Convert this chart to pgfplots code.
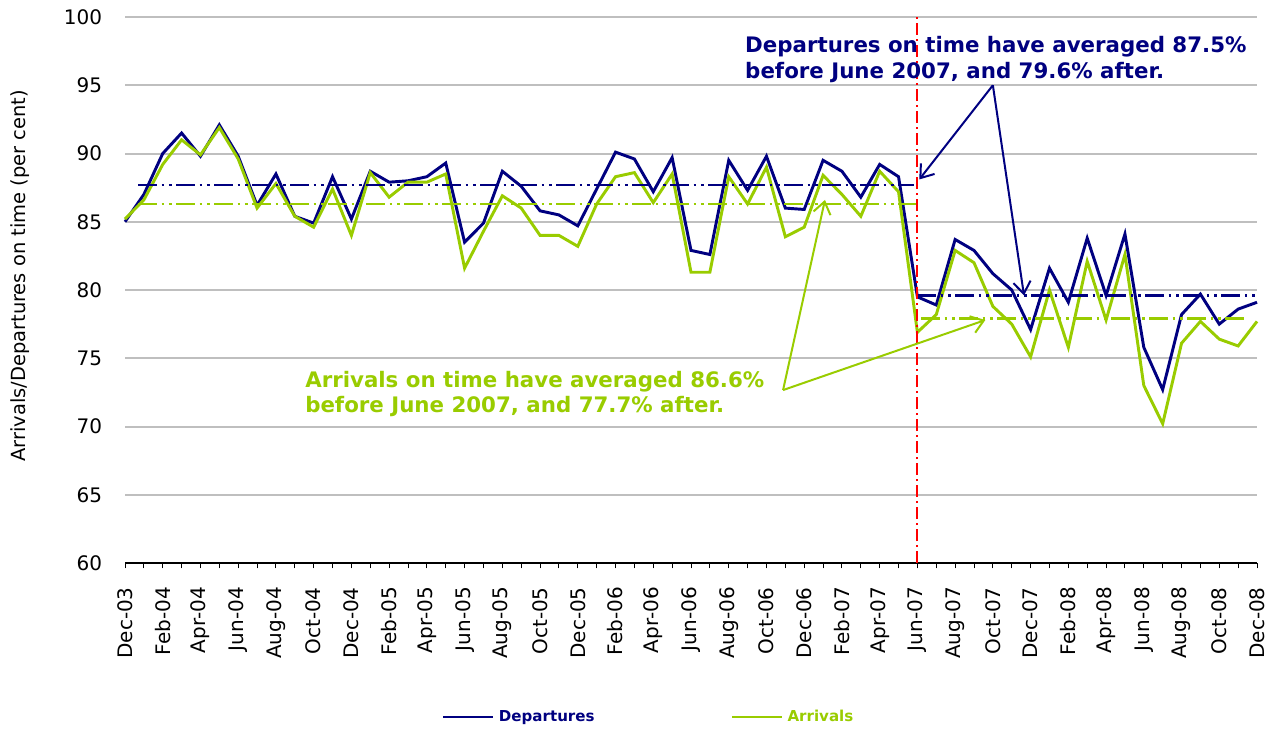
\documentclass[border=0pt]{standalone}
\usepackage{pgfplots}
\pgfplotsset{compat=1.18}
\usepackage{fontspec}
\setmainfont{DejaVu Sans}
\usetikzlibrary{arrows.meta}
\definecolor{navy}{HTML}{000080}
\definecolor{lime}{HTML}{99CC00}
\definecolor{gridgray}{HTML}{BFBFBF}

\pgfplotstableread{
x dep arr
0 85.0 85.2
1 87.0 86.6
2 90.0 89.2
3 91.5 91.0
4 89.8 89.9
5 92.1 91.9
6 89.8 89.6
7 86.2 86.0
8 88.5 87.8
9 85.4 85.4
10 84.9 84.6
11 88.3 87.4
12 85.2 84.0
13 88.7 88.6
14 87.9 86.8
15 88.0 87.9
16 88.3 87.9
17 89.3 88.5
18 83.5 81.6
19 84.9 84.3
20 88.7 86.9
21 87.6 86.0
22 85.8 84.0
23 85.5 84.0
24 84.7 83.2
25 87.4 86.3
26 90.1 88.3
27 89.6 88.6
28 87.2 86.4
29 89.7 88.5
30 82.9 81.3
31 82.6 81.3
32 89.5 88.3
33 87.3 86.3
34 89.8 89.0
35 86.0 83.9
36 85.9 84.6
37 89.5 88.4
38 88.7 87.0
39 86.8 85.4
40 89.2 88.7
41 88.3 87.2
42 79.5 76.9
43 78.9 78.2
44 83.7 82.9
45 82.9 82.0
46 81.2 78.8
47 80.0 77.5
48 77.1 75.1
49 81.6 80.0
50 79.1 75.8
51 83.8 82.1
52 79.6 77.8
53 84.1 82.6
54 75.8 73.0
55 72.7 70.2
56 78.2 76.1
57 79.7 77.7
58 77.5 76.4
59 78.6 75.9
60 79.1 77.7
}\datatable

\begin{document}
\begin{tikzpicture}
\useasboundingbox (0,0) rectangle (957pt,546.75pt);
\begin{axis}[
  at={(93.75pt,124.5pt)}, anchor=south west,
  scale only axis, width=849pt, height=409.5pt,
  xmin=0, xmax=60, ymin=60, ymax=100,
  ytick={60,65,...,100},
  ymajorgrids, grid style={gridgray, line width=1.5pt},
  axis lines*=left,
  y axis line style={draw=none},
  x axis line style={black, line width=1pt},
  ytick style={draw=none},
  xtick={0,2,...,60},
  minor xtick={1,3,...,59},
  xtick style={black, line width=0.75pt},
  minor tick style={black, line width=0.75pt},
  tick align=outside,
  major tick length=4pt, minor tick length=4pt,
  xticklabels={Dec-03,Feb-04,Apr-04,Jun-04,Aug-04,Oct-04,Dec-04,Feb-05,Apr-05,Jun-05,Aug-05,Oct-05,Dec-05,Feb-06,Apr-06,Jun-06,Aug-06,Oct-06,Dec-06,Feb-07,Apr-07,Jun-07,Aug-07,Oct-07,Dec-07,Feb-08,Apr-08,Jun-08,Aug-08,Oct-08,Dec-08},
  xticklabel style={yshift=-14pt, rotate=90, anchor=east, font=\fontsize{15}{17}\selectfont, inner sep=0pt},
  yticklabel style={font=\fontsize{15}{18}\selectfont, anchor=east, inner sep=0pt, xshift=-13pt},
  /pgf/number format/assume math mode=true,
  ylabel={Arrivals/Departures on time (per cent)},
  ylabel style={at={(rel axis cs:-0.0928,0.526)}, anchor=center, font=\fontsize{14.6}{17}\selectfont},
  clip=false,
  legend style={at={(0.4629,-0.282)}, anchor=center, draw=none, fill=none,
    legend columns=2, font=\bfseries\fontsize{11.3}{13}\selectfont,
    /tikz/every even column/.append style={column sep=100pt},
    /tikz/every odd column/.append style={column sep=1pt}},
  legend image code/.code={\draw[#1] (0pt,0pt) -- (37.5pt,0pt);},
]
\addplot[navy, line width=2.2pt] table[x=x, y=dep] {\datatable};
\addlegendentry{\textcolor{navy}{Departures}}
\addplot[lime, line width=2.2pt] table[x=x, y=arr] {\datatable};
\addlegendentry{\textcolor{lime}{Arrivals}}

\addplot[forget plot, navy, line width=1.9pt, dash pattern=on 14pt off 3.5pt on 2pt off 3.5pt on 2pt off 3.5pt] coordinates {(0.7,87.7) (41.8,87.7)};
\addplot[forget plot, lime, line width=1.9pt, dash pattern=on 14pt off 3.5pt on 2pt off 3.5pt on 2pt off 3.5pt] coordinates {(0.7,86.3) (41.9,86.3)};
\addplot[forget plot, navy, line width=1.9pt, dash pattern=on 14pt off 3.5pt on 2pt off 3.5pt on 2pt off 3.5pt] coordinates {(42,79.6) (60,79.6)};
\addplot[forget plot, lime, line width=1.9pt, dash pattern=on 14pt off 3.5pt on 2pt off 3.5pt on 2pt off 3.5pt] coordinates {(42.2,77.9) (59.4,77.9)};
\addplot[forget plot, red, line width=1.6pt, dash pattern=on 9pt off 3pt on 1.5pt off 3pt] coordinates {(42,60) (42,100)};

\draw[navy, line width=1.5pt, -{Straight Barb[length=9pt,width=13pt,line width=1.5pt]}] (axis cs:46,95) -- (axis cs:42.1,88.1);
\draw[navy, line width=1.5pt, -{Straight Barb[length=9pt,width=13pt,line width=1.5pt]}] (axis cs:46,95) -- (axis cs:47.65,79.6);
\draw[lime, line width=1.5pt, -{Straight Barb[length=9pt,width=13pt,line width=1.5pt]}] (axis cs:34.88,72.67) -- (axis cs:37.1,86.6);
\draw[lime, line width=1.5pt, -{Straight Barb[length=9pt,width=13pt,line width=1.5pt]}] (axis cs:34.88,72.67) -- (axis cs:45.6,77.8);

\node[anchor=north west, inner sep=0pt, align=left, text=navy, font=\bfseries\fontsize{16}{19}\selectfont] at (axis cs:32.86,98.57) {Departures on time have averaged 87.5\%\\before June 2007, and 79.6\% after.};
\node[anchor=north west, inner sep=0pt, align=left, text=lime, font=\bfseries\fontsize{16}{19}\selectfont] at (axis cs:9.54,74.1) {Arrivals on time have averaged 86.6\%\\before June 2007, and 77.7\% after.};
\end{axis}
\end{tikzpicture}
\end{document}
